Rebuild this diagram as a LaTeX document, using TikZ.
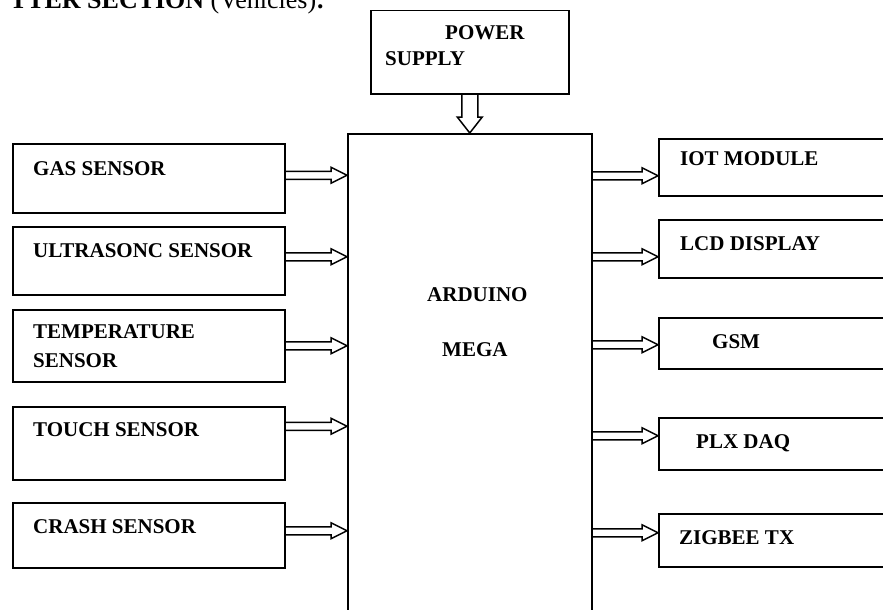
\documentclass[tikz,border=0pt]{standalone}
\usepackage{fontspec}
\setmainfont{Liberation Serif}
\usetikzlibrary{calc}
\begin{document}
\begin{tikzpicture}[x=1pt,y=-1pt,
  box/.style={draw, line width=1.5pt, inner sep=0pt, anchor=north west},
  lbl/.style={anchor=base west, inner sep=0pt, font=\bfseries\fontsize{21}{25}\selectfont},
  hr/.style={line width=1.5pt, to path={($(\tikztostart)+(0,-4)$) -- ($(\tikztotarget)+(-16,-4)$) -- ($(\tikztotarget)+(-16,-8)$) -- (\tikztotarget) -- ($(\tikztotarget)+(-16,8)$) -- ($(\tikztotarget)+(-16,4)$) -- ($(\tikztostart)+(0,4)$)}},
  hd/.style={line width=1.5pt, to path={($(\tikztostart)+(-8,0)$) -- ($(\tikztotarget)+(-8,-16)$) -- ($(\tikztotarget)+(-12.5,-16)$) -- (\tikztotarget) -- ($(\tikztotarget)+(12.5,-16)$) -- ($(\tikztotarget)+(8,-16)$) -- ($(\tikztostart)+(8,0)$)}}
]
\useasboundingbox (0,0) rectangle (883,610);
\clip (0,0) rectangle (883,610);

% title (cut off at top, as in the reference)
\node[anchor=base east, inner sep=0pt, font=\fontsize{26}{30}\selectfont] (title) at (325,9) {\textbf{TTER SECTION} (Vehicles)\textbf{:}};

% power supply
\node[box, minimum width=198pt, minimum height=83pt] (power) at (370,10) {};
\node[lbl] (powert1) at (445,40) {POWER};
\node[lbl] (powert2) at (385,66) {SUPPLY};

% main
\node[box, minimum width=244pt, minimum height=520pt] (main) at (347,133) {};
\node[lbl] (maint1) at (427,301) {ARDUINO};
\node[lbl] (maint2) at (442,356) {MEGA};

% left boxes
\node[box, minimum width=272pt, minimum height=69pt] (gas) at (12,143) {};
\node[box, minimum width=272pt, minimum height=68pt] (ultra) at (12,226) {};
\node[box, minimum width=272pt, minimum height=72pt] (temp) at (12,309) {};
\node[box, minimum width=272pt, minimum height=73pt] (touch) at (12,406) {};
\node[box, minimum width=272pt, minimum height=65pt] (crash) at (12,502) {};
\node[lbl] (gast) at (33,175) {GAS SENSOR};
\node[lbl] (ultrat) at (33,257) {ULTRASONC SENSOR};
\node[lbl] (tempt1) at (33,338) {TEMPERATURE};
\node[lbl] (tempt2) at (33,367) {SENSOR};
\node[lbl] (toucht) at (33,436) {TOUCH SENSOR};
\node[lbl] (crasht) at (33,533) {CRASH SENSOR};

% right boxes
\node[box, minimum width=260pt, minimum height=57pt] (iot) at (658,138) {};
\node[box, minimum width=260pt, minimum height=58pt] (lcd) at (658,219) {};
\node[box, minimum width=260pt, minimum height=51pt] (gsm) at (658,317) {};
\node[box, minimum width=260pt, minimum height=52pt] (plx) at (658,417) {};
\node[box, minimum width=260pt, minimum height=53pt] (zig) at (658,513) {};
\node[lbl] (iott) at (680,165) {IOT MODULE};
\node[lbl] (lcdt) at (680,250) {LCD DISPLAY};
\node[lbl] (gsmt) at (712,348) {GSM};
\node[lbl] (plxt) at (696,448) {PLX DAQ};
\node[lbl] (zigt) at (679,544) {ZIGBEE TX};

% connectors
\draw[hd] (power.south) to (power.south |- main.north);

\coordinate (l1) at ([yshift=3pt]gas.east);
\coordinate (l2) at ([yshift=4pt]ultra.east);
\coordinate (l3) at (temp.east);
\coordinate (l4) at ([yshift=17pt]touch.east);
\coordinate (l5) at ([yshift=4.5pt]crash.east);
\foreach \c in {l1,l2,l3,l4,l5}
  \draw[hr] (\c) to (\c -| main.west);

\coordinate (r1) at ([yshift=-8.5pt]iot.west);
\coordinate (r2) at ([yshift=-8pt]lcd.west);
\coordinate (r3) at ([yshift=-1.5pt]gsm.west);
\coordinate (r4) at ([yshift=8pt]plx.west);
\coordinate (r5) at ([yshift=7.5pt]zig.west);
\foreach \c in {r1,r2,r3,r4,r5}
  \draw[hr] (\c -| main.east) to (\c);
\end{tikzpicture}
\end{document}
